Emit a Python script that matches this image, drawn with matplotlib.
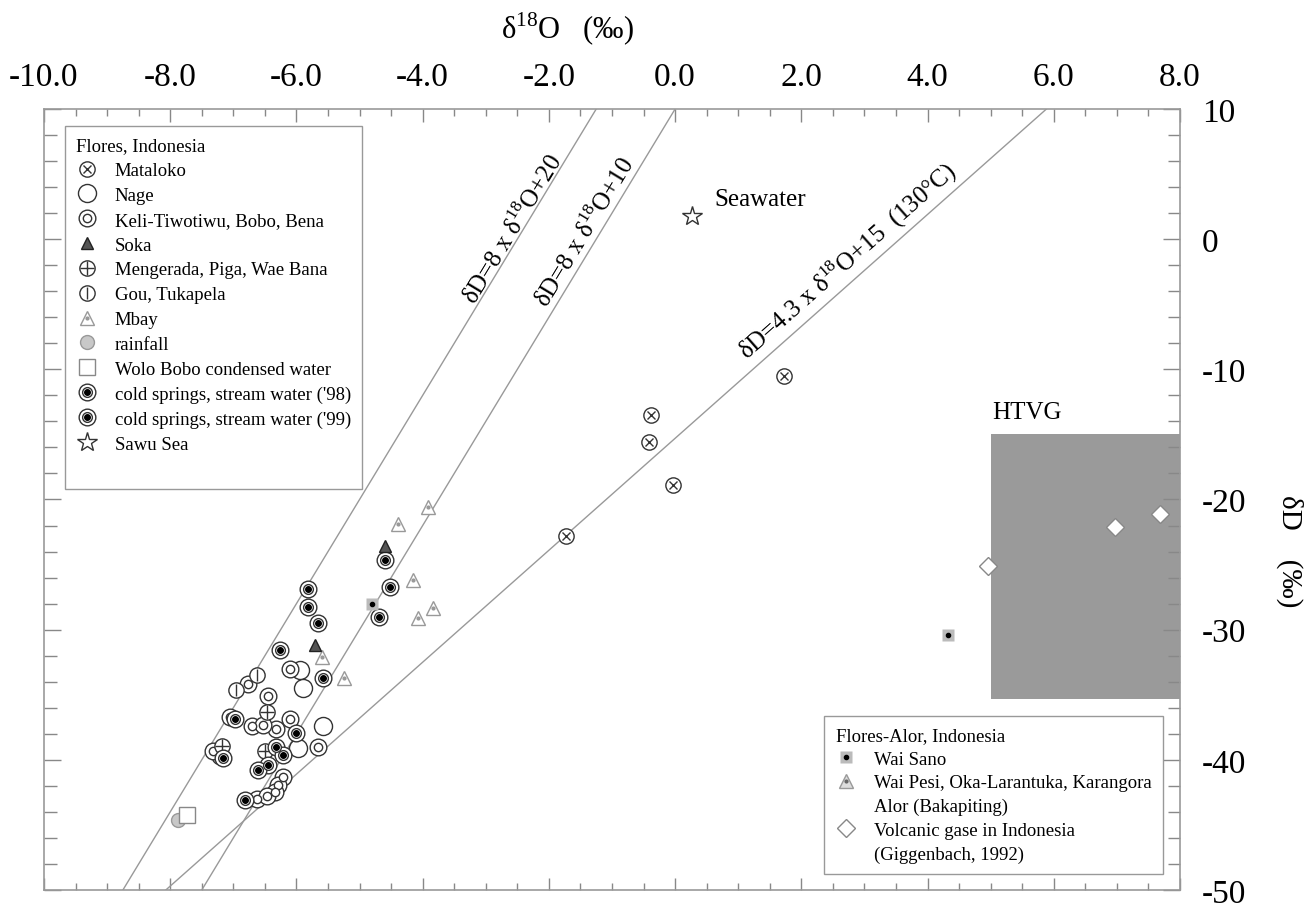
import numpy as np
import matplotlib
matplotlib.use('Agg')
import matplotlib.pyplot as plt
from matplotlib.lines import Line2D
from matplotlib.patches import Rectangle
from matplotlib.ticker import MultipleLocator, FormatStrFormatter

plt.rcParams['font.family'] = ['Liberation Serif', 'DejaVu Serif']
plt.rcParams['mathtext.fontset'] = 'custom'
plt.rcParams['mathtext.rm'] = 'Liberation Serif'
plt.rcParams['axes.unicode_minus'] = False

# --- data (d18O, dD in permil) ---
mataloko_x = [1.73, -0.38, -0.42, -0.03, -1.73]
mataloko_y = [-10.5, -13.5, -15.6, -18.9, -22.8]

nage_x = [-5.95, -5.90, -5.58, -5.97]
nage_y = [-33.1, -34.5, -37.4, -39.1]

keli_x = [-6.11, -6.77, -6.45, -7.06, -6.71, -6.32, -6.53, -6.11, -5.66, -7.21,
          -7.32, -6.21, -6.29, -6.34, -6.63, -6.47]
keli_y = [-33.0, -34.2, -35.1, -36.7, -37.4, -37.6, -37.3, -36.9, -39.0, -39.7,
          -39.35, -41.3, -41.9, -42.5, -43.0, -42.8]

soka_x = [-4.60, -5.71]
soka_y = [-23.6, -31.2]

mengerada_x = [-6.47, -6.50, -7.18]
mengerada_y = [-36.3, -39.35, -38.9]

gou_x = [-6.63, -6.95]
gou_y = [-33.5, -34.6]

mbay_x = [-3.92, -4.39, -4.15, -3.84, -4.07, -5.60, -5.24]
mbay_y = [-20.6, -21.9, -26.2, -28.3, -29.1, -32.1, -33.7]

rainfall_x = [-7.87]
rainfall_y = [-44.6]

wolo_x = [-7.74]
wolo_y = [-44.2]

cold98_x = [-4.60, -4.52, -4.69, -5.82, -5.82, -5.66, -6.26, -5.58]
cold98_y = [-24.66, -26.7, -29.0, -26.85, -28.25, -29.5, -31.6, -33.7]

cold99_x = [-6.98, -6.00, -6.33, -6.21, -7.16, -6.45, -6.61, -6.82]
cold99_y = [-36.9, -37.95, -39.0, -39.6, -39.85, -40.4, -40.75, -43.1]

sawu_x = [0.27]
sawu_y = [1.8]

waisano_x = [4.33, -4.81]
waisano_y = [-30.4, -28.0]

volcanic_x = [4.96, 6.97, 7.68]
volcanic_y = [-25.1, -22.1, -21.1]

# HTVG field
htvg_x = [5.0, 8.0]
htvg_y = [-35.3, -15.0]

# reference lines: (intercept, slope)
lines = [(20, 8.0), (10, 8.0), (-15.3, 4.3)]
line_labels = ['δD=8 x δ$^{18}$O+20', 'δD=8 x δ$^{18}$O+10',
               'δD=4.3 x δ$^{18}$O+15  (130°C)']
label_pos = [(-2.58, 0.82), (-1.44, 0.59), (2.73, -1.63)]

EDGE = '#333333'

fig = plt.figure(figsize=(13.15, 9.04), dpi=100)
ax = fig.add_axes([44 / 1315, 13 / 904, 1136 / 1315, 781 / 904])
ax.set_xlim(-10, 8)
ax.set_ylim(-50, 10)


def layered(x, y, layers, z=3):
    hs = []
    for kw in layers:
        h, = ax.plot(x, y, linestyle='none', zorder=z, **kw)
        hs.append(h)
    return tuple(hs)


def handle(layers):
    return tuple(Line2D([], [], linestyle='none', **kw) for kw in layers)


st_mataloko = [dict(marker='o', ms=11, mfc='white', mec=EDGE, mew=1.0),
               dict(marker='x', ms=6, mec=EDGE, mew=1.0)]
st_nage = [dict(marker='o', ms=13, mfc='white', mec=EDGE, mew=1.0)]
st_keli = [dict(marker='o', ms=12, mfc='white', mec=EDGE, mew=1.0),
           dict(marker='o', ms=6, mfc='white', mec=EDGE, mew=1.0)]
st_soka = [dict(marker='^', ms=9, mfc='#555555', mec='#222222', mew=1.0)]
st_meng = [dict(marker='o', ms=11, mfc='white', mec=EDGE, mew=1.0),
           dict(marker='+', ms=10, mec=EDGE, mew=1.0)]
st_gou = [dict(marker='o', ms=11, mfc='white', mec=EDGE, mew=1.0),
          dict(marker='|', ms=8, mec=EDGE, mew=1.0)]
st_mbay = [dict(marker='^', ms=10, mfc='white', mec='#999999', mew=1.0),
           dict(marker='.', ms=4, color='#999999')]
st_rain = [dict(marker='o', ms=10, mfc='#c8c8c8', mec='#999999', mew=1.0)]
st_wolo = [dict(marker='s', ms=11, mfc='white', mec='#888888', mew=1.0)]
st_cold = [dict(marker='o', ms=12, mfc='white', mec=EDGE, mew=1.0),
           dict(marker='o', ms=7, mfc='white', mec=EDGE, mew=1.0),
           dict(marker='o', ms=4, mfc='black', mec='black')]
st_sawu = [dict(marker='*', ms=15, mfc='white', mec=EDGE, mew=1.0)]
st_waisano = [dict(marker='s', ms=8, mfc='#bbbbbb', mec='none'),
              dict(marker='o', ms=3, mfc='black', mec='black')]
st_waipesi = [dict(marker='^', ms=10, mfc='#dddddd', mec='#999999', mew=1.0),
              dict(marker='.', ms=4, color='#666666')]
st_volc = [dict(marker='D', ms=9, mfc='white', mec='#888888', mew=1.0)]
st_blank = [dict(marker='none')]

# HTVG box
ax.add_patch(Rectangle((htvg_x[0], htvg_y[0]), htvg_x[1] - htvg_x[0],
                       htvg_y[1] - htvg_y[0], facecolor='#9a9a9a',
                       edgecolor='none', zorder=1))
ax.text(5.02, -13.3, 'HTVG', fontsize=18, ha='left', va='center')

for b, m in lines:
    ax.axline((0, b), slope=m, color='#999999', lw=1.0, zorder=2)


def line_angle(slope):
    p0 = ax.transData.transform((0, 0))
    p1 = ax.transData.transform((1, slope))
    return np.degrees(np.arctan2(p1[1] - p0[1], p1[0] - p0[0]))


for (b, m), txt, (tx, ty) in zip(lines, line_labels, label_pos):
    ax.text(tx, ty, txt, fontsize=18, rotation=line_angle(m),
            rotation_mode='anchor', ha='center', va='center')

h_mataloko = layered(mataloko_x, mataloko_y, st_mataloko)
h_nage = layered(nage_x, nage_y, st_nage)
h_keli = layered(keli_x, keli_y, st_keli)
h_meng = layered(mengerada_x, mengerada_y, st_meng)
h_gou = layered(gou_x, gou_y, st_gou)
h_cold98 = layered(cold98_x, cold98_y, st_cold)
h_cold99 = layered(cold99_x, cold99_y, st_cold)
h_mbay = layered(mbay_x, mbay_y, st_mbay, z=4)
h_soka = layered(soka_x, soka_y, st_soka, z=4)
h_rain = layered(rainfall_x, rainfall_y, st_rain)
h_wolo = layered(wolo_x, wolo_y, st_wolo)
h_sawu = layered(sawu_x, sawu_y, st_sawu)
h_waisano = layered(waisano_x, waisano_y, st_waisano, z=4)
h_volc = layered(volcanic_x, volcanic_y, st_volc, z=4)

ax.text(0.62, 3.1, 'Seawater', fontsize=18, ha='left', va='center')

# axes styling
ax.xaxis.set_major_locator(MultipleLocator(2))
ax.xaxis.set_minor_locator(MultipleLocator(0.5))
ax.yaxis.set_major_locator(MultipleLocator(10))
ax.yaxis.set_minor_locator(MultipleLocator(2))
ax.xaxis.set_major_formatter(FormatStrFormatter('%.1f'))
ax.yaxis.set_major_formatter(FormatStrFormatter('%d'))
ax.tick_params(which='both', direction='in', top=True, bottom=True, left=True,
               right=True, labeltop=True, labelbottom=False, labelleft=False,
               labelright=True, color='#888888', width=1.0)
ax.tick_params(axis='x', which='major', length=9, pad=12, labelsize=24)
ax.tick_params(axis='x', which='minor', length=5)
ax.tick_params(axis='y', which='major', length=12, pad=16, labelsize=24)
ax.tick_params(axis='y', which='minor', length=9)
for sp in ax.spines.values():
    sp.set_color('#999999')
    sp.set_linewidth(1.2)

fig.text(0.432, 0.967, 'δ$^{18}$O   (‰)', fontsize=22, ha='center', va='center')
fig.text(0.981, 0.39, 'δD    (‰)', fontsize=21, ha='center', va='center',
         rotation=270)

leg_kw = dict(alignment='left', borderaxespad=0, fancybox=False,
              edgecolor='#999999', framealpha=1, fontsize=13.5,
              title_fontsize=13.5, numpoints=1, handlelength=1.1,
              handletextpad=0.95, borderpad=0.6)

leg1 = ax.legend([h_mataloko, h_nage, h_keli, h_soka, h_meng, h_gou, h_mbay,
                  h_rain, h_wolo, h_cold98, h_cold99, h_sawu, handle(st_blank)],
                 ['Mataloko', 'Nage', 'Keli-Tiwotiwu, Bobo, Bena', 'Soka',
                  'Mengerada, Piga, Wae Bana', 'Gou, Tukapela', 'Mbay',
                  'rainfall', 'Wolo Bobo condensed water',
                  "cold springs, stream water ('98)",
                  "cold springs, stream water ('99)", 'Sawu Sea', ' '],
                 title='Flores, Indonesia', loc='upper left',
                 bbox_to_anchor=(0.0185, 0.978), labelspacing=0.41, **leg_kw)
leg1.get_frame().set_linewidth(1.0)
ax.add_artist(leg1)

leg2 = ax.legend([handle(st_waisano), handle(st_waipesi), handle(st_blank),
                  handle(st_volc), handle(st_blank)],
                 ['Wai Sano', 'Wai Pesi, Oka-Larantuka, Karangora',
                  'Alor (Bakapiting)', 'Volcanic gase in Indonesia',
                  '(Giggenbach, 1992)'],
                 title='Flores-Alor, Indonesia', loc='lower right',
                 bbox_to_anchor=(0.985, 0.0204), labelspacing=0.35, **leg_kw)
leg2.get_frame().set_linewidth(1.0)

fig.savefig('out.png', dpi=100)
